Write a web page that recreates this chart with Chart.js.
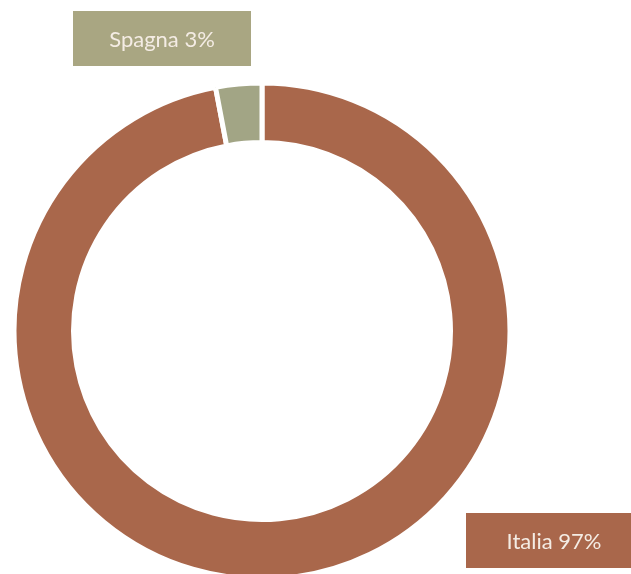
<!DOCTYPE html>
<html>
<head>
<meta charset="utf-8">
<script src="https://cdn.jsdelivr.net/npm/chart.js@4.4.1/dist/chart.umd.min.js"></script>
<style>
  html, body { margin: 0; padding: 0; background: #fff; overflow: hidden; }
  #wrap { position: relative; width: 631px; height: 574px; }
</style>
</head>
<body>
<div id="wrap"><canvas id="originChart" width="631" height="574"></canvas></div>
<script>
var countries = ['Italia', 'Spagna'];
var shares = [97, 3];
var sliceColors = ['#a9674b', '#a2a585'];
var boxColors = ['#a9674b', '#a9a682'];

// label boxes, one per country: x/y of the box's top left corner
var boxPos = [
    { x: 466, y: 513, w: 176, h: 55 },
    { x: 73, y: 11, w: 178, h: 55 }
];

var labelBoxes = {
    id: 'labelBoxes',
    afterDraw: function(chart) {
        var ctx = chart.ctx;
        ctx.save();
        ctx.font = '22px Lato, "Open Sans", sans-serif';
        ctx.textAlign = 'center';
        ctx.textBaseline = 'middle';
        for (var i = 0; i < countries.length; i++) {
            var b = boxPos[i];
            ctx.fillStyle = boxColors[i];
            ctx.fillRect(b.x, b.y, b.w, b.h);
            ctx.fillStyle = '#f4ece4';
            ctx.fillText(countries[i] + ' ' + shares[i] + '%', b.x + b.w / 2, b.y + b.h / 2 + 1);
        }
        ctx.restore();
    }
};

var ctx = document.getElementById('originChart').getContext('2d');
var originChart = new Chart(ctx, {
    type: 'doughnut',
    data: {
        labels: countries,
        datasets: [{
            data: shares,
            backgroundColor: sliceColors,
            borderColor: '#ffffff',
            borderWidth: 5,
            radius: 248,
            cutout: '76%'
        }]
    },
    options: {
        responsive: false,
        animation: false,
        layout: { padding: { left: 0, right: 107, top: 88, bottom: 0 } },
        plugins: {
            legend: { display: false },
            tooltip: { enabled: false }
        }
    },
    plugins: [labelBoxes]
});
</script>
</body>
</html>
